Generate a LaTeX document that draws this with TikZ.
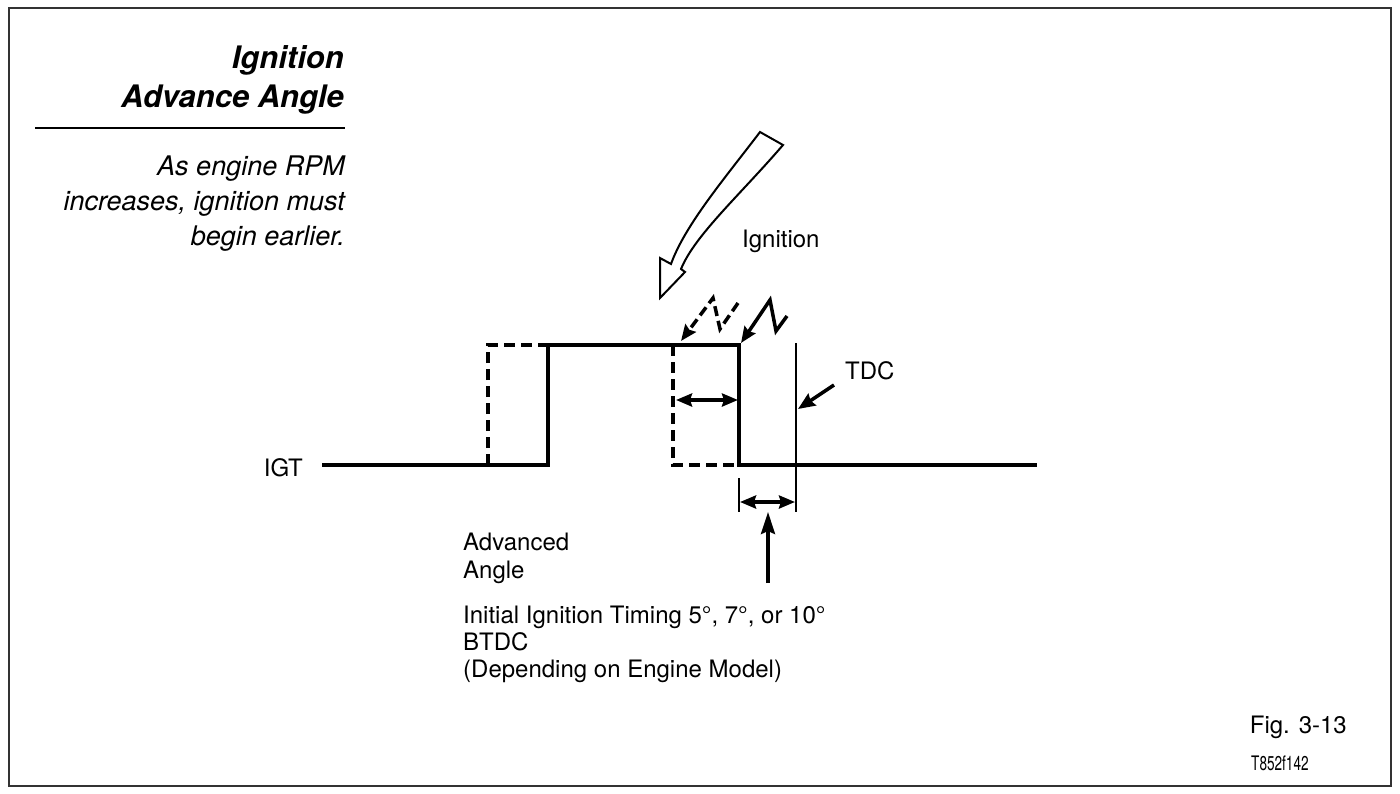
\documentclass[tikz,border=0pt]{standalone}
\usepackage{fontspec}
\setmainfont{TeX Gyre Heros}
\usetikzlibrary{arrows.meta}
\tikzset{
  lbl/.style={inner sep=0pt, font=\fontsize{24}{28}\selectfont},
  ttl/.style={inner sep=0pt, anchor=base east, font=\fontsize{31}{36}\selectfont\bfseries\itshape},
  body/.style={inner sep=0pt, anchor=base east, font=\fontsize{27}{32}\selectfont\itshape},
  sig/.style={line width=3.5pt},
  dsig/.style={line width=3.5pt, dash pattern=on 11pt off 6pt},
  thin/.style={line width=1.5pt},
  dimarrow/.style={line width=3.5pt, {Stealth[length=16pt,width=13pt,inset=2pt]}-{Stealth[length=16pt,width=13pt,inset=2pt]}},
  ptr/.style={line width=3.5pt, -{Stealth[length=17pt,width=14pt,inset=2pt]}},
}
\begin{document}
\begin{tikzpicture}[x=1pt,y=-1pt]
\useasboundingbox (0,0) rectangle (1400,793);
% frame
\draw[line width=1.5pt, black!80] (9,8) rectangle (1391,786);
% title block
\node[ttl] (t1) at (344,68) {Ignition};
\node[ttl] (t2) at (344,107) {Advance Angle};
\draw[line width=2pt] (35,128) -- (345,128);
\node[body] (b1) at (345,175) {As engine RPM};
\node[body] (b2) at (345,210) {increases, ignition must};
\node[body] (b3) at (345,245) {begin earlier.};
% waveform
\node[lbl, anchor=base east] (igt) at (303,476) {IGT};
\draw[sig] (322,465) -- (548,465) -- (548,345) -- (739,345) -- (739,465) -- (1037,465);
\draw[dsig] (488,465) -- (488,345) -- (548,345);
\draw[dsig] (673,345) -- (673,465) -- (739,465);
% TDC line and extension
\coordinate (tdcTop) at (796,343);
\coordinate (tdcBot) at (796,512);
\draw[thin] (tdcTop) -- (tdcBot);
\coordinate (extTop) at (739,478);
\coordinate (extBot) at (739,512);
\draw[thin] (extTop) -- (extBot);
% dimension arrows
\coordinate (aL) at (676,400);
\coordinate (aR) at (738,400);
\draw[dimarrow] (aL) -- (aR);
\coordinate (dL) at (740,502);
\coordinate (dR) at (795,502);
\draw[dimarrow] (dL) -- (dR);
\coordinate (upB) at (768,583);
\coordinate (upT) at (768,512);
\draw[line width=3.5pt, -{Stealth[length=22pt,width=14pt,inset=3pt]}] (upB) -- (upT);
% TDC label
\node[lbl, anchor=base west] (tdc) at (845,379) {TDC};
\coordinate (tdcS) at (834,385);
\coordinate (tdcE) at (798,409);
\draw[ptr] (tdcS) -- (tdcE);
% lightning bolts
\coordinate (sb1) at (787,316);
\coordinate (sb2) at (776,331);
\coordinate (sb3) at (770,300);
\coordinate (sbTip) at (741,343);
\draw[line width=3.5pt, line join=miter, -{Stealth[length=16pt,width=13pt,inset=2pt]}] (sb1) -- (sb2) -- (sb3) -- (sbTip);
\coordinate (db1) at (738,303);
\coordinate (db2) at (720,329);
\coordinate (db3) at (713,298);
\coordinate (dbTip) at (681,341);
\draw[line width=3.5pt, dash pattern=on 10pt off 5pt, -{Stealth[length=16pt,width=13pt,inset=2pt]}] (db1) -- (db2) -- (db3) -- (dbTip);
% hollow arrow
\draw[line width=2pt, line join=miter, fill=white]
  (760,132) .. controls (725,178) and (685,225) .. (671,264)
  -- (660,258) -- (660,298) -- (685,272) -- (681,269)
  .. controls (695,235) and (740,195) .. (783,145) -- cycle;
\node[lbl, anchor=base west] (ign) at (742,247) {Ignition};
% lower labels
\node[lbl, anchor=base west] (adv1) at (463,550) {Advanced};
\node[lbl, anchor=base west] (adv2) at (463,578) {Angle};
\node[lbl, anchor=base west] (ini1) at (463,623) {Initial Ignition Timing 5°, 7°, or 10°};
\node[lbl, anchor=base west] (ini2) at (463,650) {BTDC};
\node[lbl, anchor=base west] (ini3) at (463,677) {(Depending on Engine Model)};
% figure label
\node[lbl, anchor=base east] (fig) at (1347,733) {Fig. 3-13};
\node[inner sep=0pt, anchor=base west, font=\fontsize{20}{24}\selectfont] (code) at (1251,770) {\scalebox{0.68}[1]{T852f142}};
\end{tikzpicture}
\end{document}
